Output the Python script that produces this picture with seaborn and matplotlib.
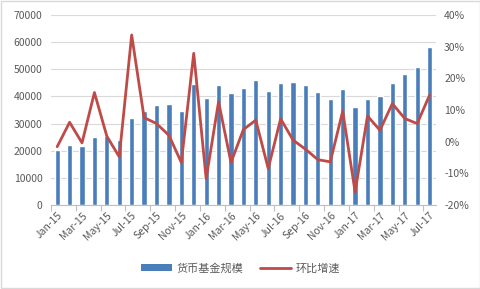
import numpy as np
import pandas as pd
import matplotlib
matplotlib.use("Agg")
import matplotlib.pyplot as plt
import seaborn as sns
from matplotlib.ticker import FuncFormatter, MultipleLocator, FixedLocator
from matplotlib.patches import Patch, Rectangle
from matplotlib.lines import Line2D

months = ["Jan-15", "Feb-15", "Mar-15", "Apr-15", "May-15", "Jun-15", "Jul-15", "Aug-15",
          "Sep-15", "Oct-15", "Nov-15", "Dec-15", "Jan-16", "Feb-16", "Mar-16", "Apr-16",
          "May-16", "Jun-16", "Jul-16", "Aug-16", "Sep-16", "Oct-16", "Nov-16", "Dec-16",
          "Jan-17", "Feb-17", "Mar-17", "Apr-17", "May-17", "Jun-17", "Jul-17"]
fund_size = [20300, 21900, 21600, 25000, 25500, 24100, 32200, 34600, 36700, 37100,
             34800, 44500, 39400, 44200, 41400, 43000, 45900, 41900, 44900, 45300,
             44200, 41600, 39000, 42800, 36000, 38900, 40100, 45100, 48200, 50800, 58300]
mom_growth = [-1.6, 6.1, -0.4, 15.5, 1.7, -4.8, 33.7, 7.6, 5.7, 2.0, -6.6, 27.9, -11.7,
              12.6, -6.6, 3.8, 6.8, -8.5, 7.2, 0.5, -2.4, -5.7, -6.4, 9.6, -15.9, 8.1,
              3.6, 12.0, 7.3, 5.7, 14.7]

bar_label = "货币基金规模"
line_label = "环比增速"

df = pd.DataFrame({"month": months, "size": fund_size, "growth": mom_growth})
df["pos"] = np.arange(len(df))

sns.set_theme(style="white")
plt.rcParams["font.family"] = ["Noto Sans CJK SC", "DejaVu Sans"]

blue = "#4a7ebb"
red = "#be4b48"
grey = "#595959"

fig = plt.figure(figsize=(4.81, 2.89), dpi=100)
ax = fig.add_axes([0.106, 0.291, 0.800, 0.657])
ax2 = ax.twinx()

sns.barplot(data=df, x="pos", y="size", color=blue, width=0.42, ax=ax,
            saturation=1, zorder=2)
sns.lineplot(data=df, x="pos", y="growth", color=red, linewidth=2.0, ax=ax2,
             zorder=3)

ax.set_ylim(0, 70000)
ax.yaxis.set_major_locator(MultipleLocator(10000))
ax2.set_ylim(-20, 40)
ax2.yaxis.set_major_locator(MultipleLocator(10))
ax2.yaxis.set_major_formatter(FuncFormatter(lambda v, p: f"{v:.0f}%"))
ax.set_xlim(-0.5, len(df) - 0.5)

ax.grid(axis="y", color="#d9d9d9", linewidth=0.8, zorder=0)
ax.set_axisbelow(True)
ax2.grid(False)

for a in (ax, ax2):
    for s in a.spines.values():
        s.set_visible(False)
    a.set_xlabel("")
    a.set_ylabel("")
ax.spines["bottom"].set_visible(True)
ax.spines["bottom"].set_color("#bfbfbf")
ax.spines["bottom"].set_linewidth(0.8)

ax.xaxis.set_major_locator(FixedLocator(df["pos"].values[::2]))
ax.set_xticklabels(df["month"].values[::2], rotation=45, ha="right",
                   rotation_mode="anchor")
ax.xaxis.set_minor_locator(FixedLocator(df["pos"].values[::2] - 0.5))
ax.tick_params(axis="x", which="major", length=0, pad=4, labelsize=7.5,
               labelcolor=grey)
ax.tick_params(axis="x", which="minor", length=4, color="#bfbfbf", width=0.8,
               direction="out", bottom=True)
ax.tick_params(axis="y", length=0, labelsize=7.5, labelcolor=grey, pad=6)
ax2.tick_params(axis="y", length=0, labelsize=7.5, labelcolor=grey, pad=6)

handles = [Patch(facecolor=blue, edgecolor="none"),
           Line2D([0], [0], color=red, linewidth=2.0)]
fig.legend(handles, [bar_label, line_label], loc="center",
           bbox_to_anchor=(0.5, 0.072), ncol=2, frameon=False, fontsize=8,
           labelcolor=grey, handlelength=2.8, handleheight=0.5, columnspacing=1.5,
           handletextpad=0.4)

fig.patches.append(Rectangle((0.002, 0.003), 0.995, 0.993, transform=fig.transFigure,
                             fill=False, edgecolor="#d9d9d9", linewidth=1.0))

fig.savefig("out.png", dpi=100)
